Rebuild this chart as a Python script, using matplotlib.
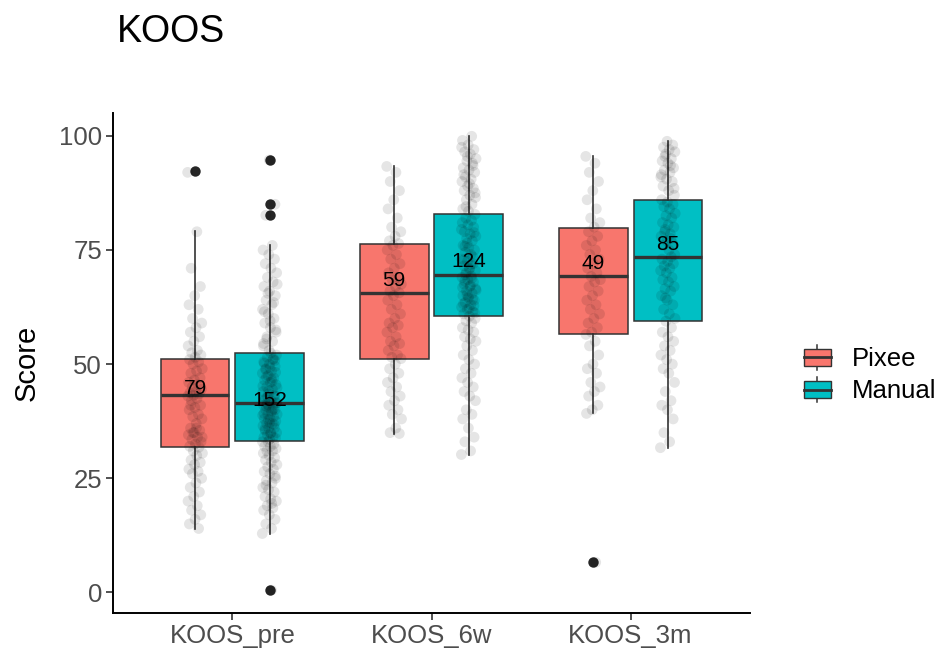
import numpy as np
import matplotlib
matplotlib.use("Agg")
import matplotlib.pyplot as plt
from matplotlib.patches import Rectangle, Patch
from matplotlib.lines import Line2D
from matplotlib.legend_handler import HandlerBase

plt.rcParams['font.family'] = ['Liberation Sans', 'DejaVu Sans']

# ---------------- data ----------------
timepoints = ["KOOS_pre", "KOOS_6w", "KOOS_3m"]
groups = ["Pixee", "Manual"]
group_colors = ["#F8766D", "#00BFC4"]

# box statistics (per timepoint)
pixee_q1 = [31.9, 51.2, 56.5]
pixee_med = [43.3, 65.6, 69.2]
pixee_q3 = [51.2, 76.4, 79.9]
pixee_whislo = [14.0, 34.8, 39.2]
pixee_whishi = [79.1, 93.3, 95.5]
pixee_outliers = [[92.3], [], [6.6]]
pixee_n = [79, 59, 49]
pixee_mean = [44.6, 68.3, 72.0]

manual_q1 = [33.1, 60.5, 59.4]
manual_med = [41.4, 69.6, 73.5]
manual_q3 = [52.4, 82.8, 86.0]
manual_whislo = [12.9, 30.2, 31.7]
manual_whishi = [76.0, 99.9, 98.8]
manual_outliers = [[94.7, 85.0, 82.6, 0.5], [], []]
manual_n = [152, 124, 85]
manual_mean = [42.1, 72.4, 76.2]

# individual scores (estimated from the jittered points)
pixee_pre = [92, 79, 71, 67, 65, 63, 62, 60, 59, 58, 57, 56, 55, 54, 53, 52.5, 52, 51.5,
             51, 50.5, 50, 49, 48.5, 48, 47, 46.5, 46, 45.5, 45, 44.5, 44, 43.8, 43.5, 43.2,
             43, 42.5, 42, 41, 40.5, 40, 39, 38.5, 38, 37, 36, 35.5, 35, 34.5, 34, 33.5, 33,
             32.5, 32, 31.8, 31, 30.5, 30, 29, 28.5, 28, 27, 26.5, 26, 25, 24, 23, 22, 21,
             20, 19, 18, 17, 16, 15, 14, 35, 34, 36, 41]
manual_pre = [12.9, 14, 15, 16, 17, 18, 18.5, 19, 20, 20.5, 21, 22, 22.5, 23, 24, 24.5, 25,
              26, 26.5, 27, 27.5, 28, 28.5, 29, 29.5, 30, 30.5, 31, 31, 31.5, 32, 32, 32.5,
              33, 33, 19.5, 23.5, 25.5,
              33.5, 34, 34, 34.5, 35, 35, 35.5, 36, 36, 36.5, 37, 37, 37.5, 38, 38, 38.5, 39,
              39, 39.5, 40, 40, 40.5, 41, 41, 41.4, 41.4, 34.8, 35.8, 36.8, 37.8, 38.8, 39.8,
              40.8, 33.8, 37.2, 39.2, 40.2, 41.2,
              41.6, 42, 42.5, 43, 43.5, 44, 44.5, 45, 45.5, 46, 46.5, 47, 47.5, 48, 48.5, 49,
              49.5, 50, 50.5, 51, 51.5, 52, 52.4, 42.2, 43.2, 44.2, 45.2, 46.2, 47.2, 48.2,
              49.2, 50.2, 51.2, 42.8, 44.8, 46.8, 48.8, 50.8,
              53, 54, 55, 56, 57, 58, 59, 60, 61, 62, 63, 64, 65, 66, 67, 68, 69, 70, 71, 72,
              73, 74, 75, 76, 55.5, 57.5, 59.5, 61.5, 63.5, 65.5, 67.5, 0.5, 82.6, 85, 94.7,
              54.5]
pixee_6w = [93.3, 92, 90, 88, 86, 84, 82, 80, 79, 78, 77, 76.4, 76, 75, 74, 73, 72, 71, 70,
            69, 68.5, 67.5, 67, 66, 65.6, 65, 64, 63, 62, 61, 60, 59, 58.5, 58, 57, 56, 55,
            54.5, 54, 53, 52, 51.5, 51.2, 50, 49, 48, 47, 46, 45, 44, 43, 42, 41, 40, 39, 38,
            36, 35, 34.8]
manual_6w = [30.2, 31, 33, 34, 36, 38, 39, 40, 42, 43, 44, 45, 46, 47, 48, 49, 50, 51, 52, 53,
             54, 55, 55.5, 56, 57, 57.5, 58, 59, 59.5, 60, 60.5,
             61, 61.5, 62, 62.5, 63, 63.5, 64, 64.5, 65, 65.5, 66, 66.5, 67, 67.5, 68, 68.5,
             69, 69.3, 69.6, 61.2, 62.2, 63.2, 64.2, 65.2, 66.2, 67.2, 68.2, 62.8, 64.8,
             66.8, 68.8,
             70, 70.5, 71, 71.5, 72, 72.5, 73, 74, 74.5, 75, 75.5, 76, 77, 77.5, 78, 78.5, 79,
             80, 80.5, 81, 81.5, 82, 82.8, 70.8, 72.8, 73.5, 76.5, 79.5, 71.8, 75.8, 78.8,
             83.5, 84, 85, 86, 86.5, 87, 88, 88.5, 89, 90, 90.5, 91, 92, 92.5, 93, 94, 94.5,
             95, 96, 96.5, 97, 98, 99, 99.9, 84.5, 87.5, 89.5, 91.5, 93.5, 95.5, 97.5]
pixee_3m = [95.5, 94, 92, 90, 88, 86, 84, 82, 81, 80, 79, 78, 77, 76, 75, 74, 73, 72, 71, 70,
            69.2, 68.5, 68, 67, 66, 65, 64, 63, 62, 61, 60, 59, 58, 57, 56.5, 55, 54, 52, 50,
            49, 48, 46, 45, 44, 43, 41, 40, 39.2, 6.6]
manual_3m = [31.7, 33, 35, 38, 40, 41, 42, 44, 46, 48, 49, 50, 51, 52, 53, 54, 55, 56, 57, 58,
             59.4,
             60, 61, 62, 63, 64, 65, 66, 66.5, 67, 68, 68.5, 69, 70, 70.5, 71, 71.5, 72, 72.5,
             73, 73.5, 64.5,
             74, 75, 76, 76.5, 77, 78, 78.5, 79, 80, 80.5, 81, 82, 82.5, 83, 84, 84.5, 85,
             85.5, 86, 77.5, 79.5,
             87, 88, 89, 90, 90.5, 91, 92, 92.5, 93, 94, 94.5, 95, 96, 96.5, 97, 97.5, 98,
             98.8, 91.5, 93.5, 95.5, 88.5]

pixee_points = [pixee_pre, pixee_6w, pixee_3m]
manual_points = [manual_pre, manual_6w, manual_3m]

# ---------------- figure ----------------
W, H = 943, 657
fig = plt.figure(figsize=(W / 100, H / 100), dpi=100)
ax = fig.add_axes([113 / W, 1 - 613 / H, 637 / W, 500 / H])

dodge = 0.1875
box_w = 0.345
edge = "#333333"

series = [
    (pixee_q1, pixee_med, pixee_q3, pixee_whislo, pixee_whishi, pixee_outliers,
     pixee_n, pixee_mean, pixee_points, group_colors[0], -dodge),
    (manual_q1, manual_med, manual_q3, manual_whislo, manual_whishi, manual_outliers,
     manual_n, manual_mean, manual_points, group_colors[1], dodge),
]

base = np.arange(1, len(timepoints) + 1)
for (q1, med, q3, lo, hi, outl, nn, mean, pts, col, off) in series:
    stats = []
    for i in range(len(timepoints)):
        stats.append(dict(q1=q1[i], med=med[i], q3=q3[i], whislo=lo[i], whishi=hi[i],
                          fliers=outl[i]))
    pos = base + off
    ax.bxp(stats, positions=pos, widths=box_w, patch_artist=True, showcaps=False,
           showfliers=True, manage_ticks=False,
           boxprops=dict(facecolor=col, edgecolor=edge, linewidth=1.1),
           medianprops=dict(color=edge, linewidth=2.4, solid_capstyle='butt'),
           whiskerprops=dict(color=edge, linewidth=1.2),
           flierprops=dict(marker='o', markerfacecolor='#262626', markeredgecolor='none',
                           markersize=7.5),
           zorder=2)
    for i, vals in enumerate(pts):
        vals = np.asarray(vals, dtype=float)
        k = np.arange(len(vals))
        jit = ((k * 0.6180339887) % 1.0 - 0.5) * 0.075
        ax.scatter(pos[i] + jit, vals, s=60, color='black', alpha=0.1,
                   edgecolors='none', zorder=3)
        ax.text(pos[i], mean[i], str(nn[i]), ha='center', va='center', fontsize=15,
                color='black', zorder=5)

ax.set_xlim(0.4, 3.6)
ax.set_ylim(-4.5, 105)
ax.set_xticks(base)
ax.set_xticklabels(timepoints)
ax.set_yticks([0, 25, 50, 75, 100])
ax.set_yticklabels(["0", "25", "50", "75", "100"])
for s in ["top", "right"]:
    ax.spines[s].set_visible(False)
for s in ["left", "bottom"]:
    ax.spines[s].set_linewidth(1.4)
    ax.spines[s].set_color("black")
ax.tick_params(axis='both', colors='#333333', width=1.2, length=5, labelsize=18.5,
               labelcolor='#4D4D4D', pad=3)

fig.text(27 / W, 1 - 363 / H, "Score", rotation=90, ha='center', va='center',
         fontsize=21, color='black')
fig.text(117 / W, 1 - 42 / H, "KOOS", ha='left', va='baseline', fontsize=27,
         color='black')


class BoxHandler(HandlerBase):
    def create_artists(self, legend, orig_handle, xdescent, ydescent, width, height,
                       fontsize, trans):
        x0, y0 = -xdescent, -ydescent
        cx = x0 + width / 2
        cy = y0 + height / 2
        bw = width * 0.78
        bh = height * 0.55
        whisk = Line2D([cx, cx], [y0 + height * 0.08, y0 + height * 0.92], color=edge,
                       linewidth=1.1, transform=trans)
        rect = Rectangle((cx - bw / 2, cy - bh / 2), bw, bh,
                         facecolor=orig_handle.get_facecolor(), edgecolor=edge,
                         linewidth=1.0, transform=trans)
        med = Line2D([cx - bw / 2, cx + bw / 2], [cy, cy], color=edge, linewidth=2.0,
                     transform=trans)
        return [whisk, rect, med]


handles = [Patch(facecolor=c) for c in group_colors]
leg = fig.legend(handles, groups, handler_map={Patch: BoxHandler()},
                 loc='center left', bbox_to_anchor=(800 / W, 1 - 373.5 / H),
                 bbox_transform=fig.transFigure, frameon=False, fontsize=18.5,
                 handlelength=1.35, handleheight=1.4, labelspacing=0.1,
                 handletextpad=0.65, borderpad=0, borderaxespad=0)

fig.savefig("out.png", dpi=100)
